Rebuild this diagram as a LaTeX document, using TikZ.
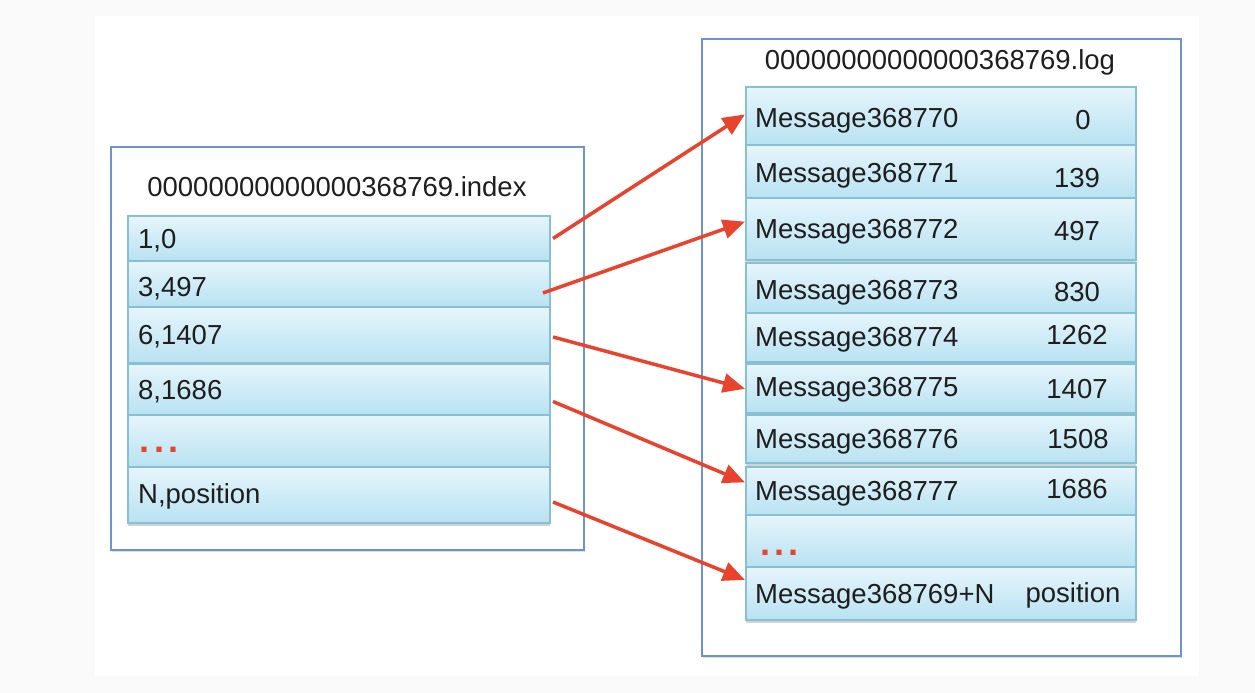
\documentclass[tikz,border=0pt]{standalone}
\usepackage{fontspec}
\setmainfont{Liberation Sans}
\usetikzlibrary{arrows.meta,shadows}
\definecolor{bgout}{HTML}{FAFAFA}
\definecolor{framec}{HTML}{6C95CC}
\definecolor{rowtop}{HTML}{E6F5FB}
\definecolor{rowbot}{HTML}{B8E2F2}
\definecolor{rowline}{HTML}{86C0D2}
\definecolor{arrred}{HTML}{E8432D}
\definecolor{txt}{HTML}{1E1E1E}
\tikzset{
  frame/.style={draw=framec, line width=1.8pt, fill=white, inner sep=0pt, outer sep=0pt,
    drop shadow={shadow xshift=1pt, shadow yshift=-2pt, opacity=0.25}},
  rowbox/.style={draw=rowline, line width=1.2pt, top color=rowtop, bottom color=rowbot,
    inner sep=0pt, outer sep=0pt, anchor=north west,
    drop shadow={shadow xshift=0pt, shadow yshift=-2.5pt, opacity=0.35}},
  lbl/.style={anchor=base west, inner sep=0pt, font=\fontsize{27.5}{30}\selectfont, text=txt},
  num/.style={anchor=base, inner sep=0pt, font=\fontsize{27.5}{30}\selectfont, text=txt},
  ttl/.style={anchor=base, inner sep=0pt, font=\fontsize{27.5}{30}\selectfont, text=txt},
  dots/.style={anchor=base, inner sep=0pt, font=\fontsize{36}{36}\selectfont\bfseries, text=arrred},
  link/.style={draw=arrred, line width=3.5pt, -{Triangle[length=22pt,width=19pt]}, shorten >=-1pt}
}
\newcommand{\spdots}{.\hspace{4pt}.\hspace{4pt}.}
\begin{document}
\begin{tikzpicture}[x=1pt,y=-1pt]
\fill[bgout] (0,0) rectangle (1255,693);
\fill[white] (95,16) rectangle (1199,676);
\useasboundingbox (0,0) rectangle (1255,693);

% left frame
\node[frame, minimum width=473pt, minimum height=403pt, anchor=north west] (lframe) at (111,147) {};
\node[ttl] (ltitle) at (337,196) {00000000000000368769.index};
\node[rowbox, minimum width=422pt, minimum height=45pt] (i1) at (128,216) {};
\node[rowbox, minimum width=422pt, minimum height=46pt] (i2) at (128,261) {};
\node[rowbox, minimum width=422pt, minimum height=56pt] (i3) at (128,307) {};
\node[rowbox, minimum width=422pt, minimum height=51pt] (i4) at (128,364) {};
\node[rowbox, minimum width=422pt, minimum height=52pt] (i5) at (128,415) {};
\node[rowbox, minimum width=422pt, minimum height=56pt] (i6) at (128,467) {};
\node[lbl] (t1) at (138,248) {1,0};
\node[lbl] (t2) at (138,296) {3,497};
\node[lbl] (t3) at (138,344) {6,1407};
\node[lbl] (t4) at (138,399) {8,1686};
\node[dots] (t5) at (159,452) {\spdots};
\node[lbl] (t6) at (138,503) {N,position};

% right frame
\node[frame, minimum width=479pt, minimum height=617pt, anchor=north west] (rframe) at (702,39) {};
\node[ttl] (rtitle) at (940,70) {00000000000000368769.log};
\node[rowbox, minimum width=390pt, minimum height=58pt] (m1) at (746,87) {};
\node[rowbox, minimum width=390pt, minimum height=53pt] (m2) at (746,145) {};
\node[rowbox, minimum width=390pt, minimum height=62pt] (m3) at (746,198) {};
\node[rowbox, minimum width=390pt, minimum height=50pt] (m4) at (746,263) {};
\node[rowbox, minimum width=390pt, minimum height=49pt] (m5) at (746,313) {};
\node[rowbox, minimum width=390pt, minimum height=49pt] (m6) at (746,364) {};
\node[rowbox, minimum width=390pt, minimum height=48pt] (m7) at (746,415) {};
\node[rowbox, minimum width=390pt, minimum height=48pt] (m8) at (746,467) {};
\node[rowbox, minimum width=390pt, minimum height=52pt] (m9) at (746,515) {};
\node[rowbox, minimum width=390pt, minimum height=53pt] (m10) at (746,567) {};

\node[lbl] (ma1) at (755,127) {Message368770};
\node[num] (mb1) at (1083,129) {0};
\node[lbl] (ma2) at (755,182) {Message368771};
\node[num] (mb2) at (1077,187) {139};
\node[lbl] (ma3) at (755,238) {Message368772};
\node[num] (mb3) at (1077,240) {497};
\node[lbl] (ma4) at (755,299) {Message368773};
\node[num] (mb4) at (1077,301) {830};
\node[lbl] (ma5) at (755,346) {Message368774};
\node[num] (mb5) at (1077,344) {1262};
\node[lbl] (ma6) at (755,396) {Message368775};
\node[num] (mb6) at (1077,398) {1407};
\node[lbl] (ma7) at (755,448) {Message368776};
\node[num] (mb7) at (1078,448) {1508};
\node[lbl] (ma8) at (755,500) {Message368777};
\node[num] (mb8) at (1077,498) {1686};
\node[dots] (ma9) at (779,555) {\spdots};
\node[lbl] (ma10) at (755,603) {Message368769+N};
\node[num] (mb10) at (1073,602) {position};

% connectors
\draw[link] ([shift={(3,0)}]i1.east) -- ([shift={(-2,-1)}]m1.west);
\draw[link] ([shift={(-7,9)}]i2.east) -- ([shift={(-2,-7)}]m3.west);
\draw[link] ([shift={(3,2)}]i3.east) -- ([shift={(-2,0)}]m6.west);
\draw[link] ([shift={(3,12)}]i4.east) -- ([shift={(-2,-9)}]m8.west);
\draw[link] ([shift={(3,7)}]i6.east) -- ([shift={(-2,-14)}]m10.west);
\end{tikzpicture}
\end{document}
